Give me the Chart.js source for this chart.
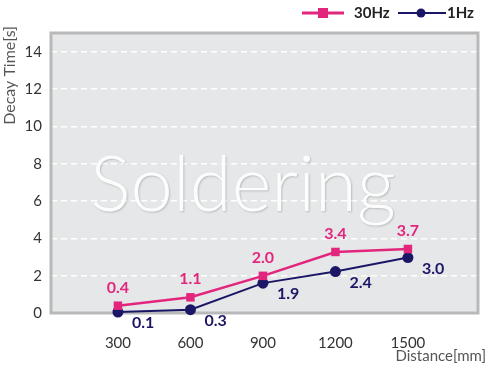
<!DOCTYPE html>
<html>
<head>
<meta charset="utf-8">
<script src="https://cdn.jsdelivr.net/npm/chart.js@4"></script>
<style>
  html, body { margin: 0; padding: 0; background: #ffffff; }
  #wrap { width: 493px; height: 373px; }
</style>
</head>
<body>
<div id="wrap"><canvas id="decay-chart" width="493" height="373"></canvas></div>
<script>
const distances = [300, 600, 900, 1200, 1500];
const decay30Hz = [0.39, 0.84, 1.99, 3.27, 3.43];
const decay1Hz = [0.05, 0.18, 1.6, 2.22, 2.97];
const labels30Hz = ["0.4", "1.1", "2.0", "3.4", "3.7"];
const labels1Hz = ["0.1", "0.3", "1.9", "2.4", "3.0"];
const yTicks = [0, 2, 4, 6, 8, 10, 12, 14];

const PINK = "#e2267e";
const NAVY = "#1b1766";
const FONT = "Lato, 'Noto Sans', sans-serif";

function toPoints(values) {
  return distances.map((d, i) => ({ x: d, y: values[i] }));
}

const plotBackground = {
  id: "plotBackground",
  beforeDraw(chart) {
    const { ctx, chartArea } = chart;
    ctx.save();
    ctx.fillStyle = "#e6e7e8";
    ctx.fillRect(chartArea.left, chartArea.top, chartArea.width, chartArea.height);
    ctx.restore();
  },
  beforeDatasetsDraw(chart) {
    const { ctx, chartArea } = chart;
    ctx.save();
    // watermark
    ctx.font = "300 76px " + FONT;
    ctx.textAlign = "center";
    ctx.textBaseline = "alphabetic";
    ctx.shadowColor = "rgba(0,0,0,0.2)";
    ctx.shadowBlur = 2;
    ctx.shadowOffsetX = 1;
    ctx.shadowOffsetY = 1;
    ctx.fillStyle = "rgba(255,255,255,0.95)";
    ctx.fillText("Soldering", 243, 211);
    ctx.restore();

    ctx.save();
    ctx.strokeStyle = "#b9b9b9";
    ctx.lineWidth = 3;
    ctx.strokeRect(chartArea.left, chartArea.top, chartArea.width, chartArea.height);
    ctx.restore();
  }
};

const extras = {
  id: "extras",
  afterDatasetsDraw(chart) {
    const { ctx } = chart;
    ctx.save();
    ctx.font = "bold 16px " + FONT;
    ctx.textBaseline = "middle";

    ctx.fillStyle = PINK;
    ctx.textAlign = "center";
    chart.getDatasetMeta(0).data.forEach((pt, i) => {
      ctx.fillText(labels30Hz[i], pt.x, pt.y - 18);
    });

    ctx.fillStyle = NAVY;
    ctx.textAlign = "left";
    chart.getDatasetMeta(1).data.forEach((pt, i) => {
      ctx.fillText(labels1Hz[i], pt.x + 14, pt.y + 11);
    });
    ctx.restore();
  },
  afterDraw(chart) {
    const { ctx } = chart;
    ctx.save();
    // axis titles
    ctx.fillStyle = "#555555";
    ctx.font = "15px " + FONT;
    ctx.textBaseline = "middle";
    ctx.textAlign = "right";
    ctx.fillText("Distance[mm]", 486, 356);

    ctx.font = "16px " + FONT;
    ctx.translate(10, 26);
    ctx.rotate(-Math.PI / 2);
    ctx.textAlign = "right";
    ctx.fillText("Decay Time[s]", 0, 0);
    ctx.restore();

    // legend
    ctx.save();
    const ly = 13;
    ctx.lineWidth = 3;
    ctx.strokeStyle = PINK;
    ctx.beginPath();
    ctx.moveTo(302, ly);
    ctx.lineTo(344, ly);
    ctx.stroke();
    ctx.fillStyle = PINK;
    ctx.fillRect(318, ly - 5, 10, 10);

    ctx.lineWidth = 2;
    ctx.strokeStyle = NAVY;
    ctx.beginPath();
    ctx.moveTo(398, ly);
    ctx.lineTo(446, ly);
    ctx.stroke();
    ctx.fillStyle = NAVY;
    ctx.beginPath();
    ctx.arc(421, ly, 4.5, 0, Math.PI * 2);
    ctx.fill();

    ctx.fillStyle = "#222222";
    ctx.font = "bold 15px " + FONT;
    ctx.textBaseline = "middle";
    ctx.textAlign = "left";
    ctx.fillText(chart.data.datasets[0].label, 354, ly);
    ctx.fillText(chart.data.datasets[1].label, 447, ly);
    ctx.restore();
  }
};

const ctx = document.querySelector("#decay-chart");
const data = {
  datasets: [
    {
      label: "30Hz",
      data: toPoints(decay30Hz),
      borderColor: PINK,
      backgroundColor: PINK,
      borderWidth: 2.5,
      pointStyle: "rect",
      pointRadius: 6,
      pointBorderWidth: 0,
      clip: false
    },
    {
      label: "1Hz",
      data: toPoints(decay1Hz),
      borderColor: NAVY,
      backgroundColor: NAVY,
      borderWidth: 2,
      pointStyle: "circle",
      pointRadius: 5.5,
      pointBorderWidth: 0,
      clip: false
    }
  ]
};

const options = {
  responsive: false,
  animation: false,
  layout: {
    padding: { top: 33, right: 15, left: 0, bottom: 0 }
  },
  plugins: {
    legend: { display: false },
    tooltip: { enabled: false }
  },
  scales: {
    x: {
      type: "linear",
      min: 23,
      max: 1790,
      afterBuildTicks: (scale) => {
        scale.ticks = distances.map((v) => ({ value: v }));
      },
      afterFit: (scale) => {
        scale.height = 60;
      },
      grid: { display: false },
      border: { display: false },
      ticks: {
        color: "#333333",
        font: { family: FONT, size: 15 },
        padding: 13,
        maxRotation: 0,
        autoSkip: false,
        callback: (value) => String(value)
      }
    },
    y: {
      min: 0,
      max: 15,
      afterBuildTicks: (scale) => {
        scale.ticks = yTicks.map((v) => ({ value: v }));
      },
      afterFit: (scale) => {
        scale.width = 51;
      },
      grid: {
        color: "#ffffff",
        lineWidth: 1.5,
        drawTicks: false
      },
      border: { display: false, dash: [6, 4] },
      ticks: {
        color: "#333333",
        font: { family: FONT, size: 15 },
        padding: 9
      }
    }
  }
};

const config = {
  type: "line",
  data: data,
  options: options,
  plugins: [plotBackground, extras]
};

const lineChart = new Chart(ctx, config);
</script>
</body>
</html>
